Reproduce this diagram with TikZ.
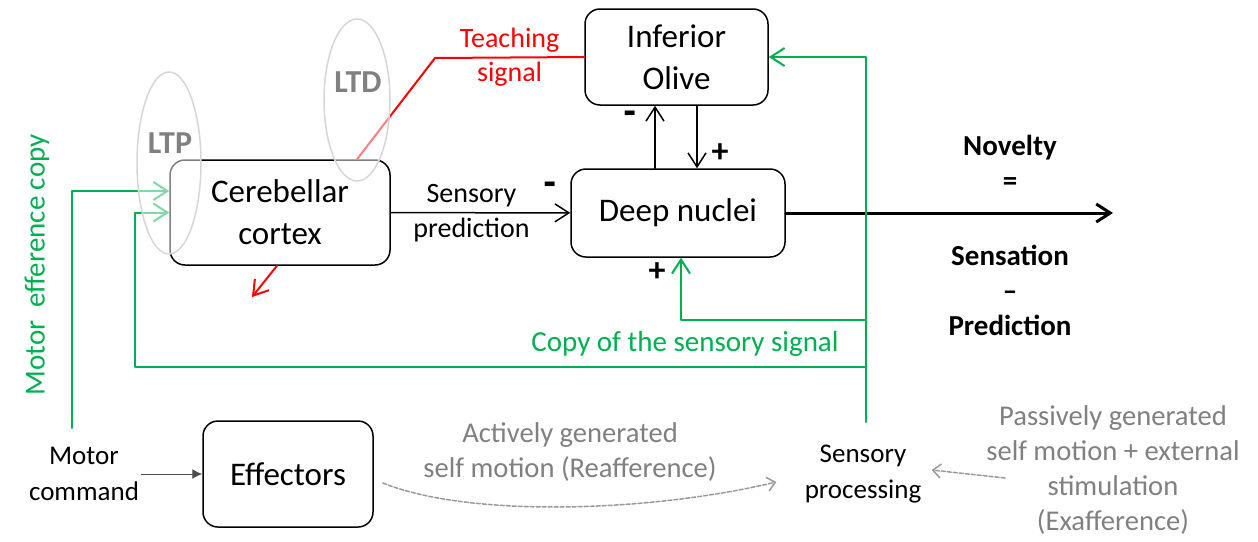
\documentclass[tikz,border=0pt]{standalone}
\usepackage{fontspec}
\setmainfont{Carlito}
\newfontfamily\signfont{DejaVu Sans}
\usepackage{tikz}
\usetikzlibrary{arrows.meta}
\definecolor{sigred}{rgb}{1,0,0}
\definecolor{siggreen}{rgb}{0,0.69,0.31}
\definecolor{txtgray}{rgb}{0.5,0.5,0.5}
\definecolor{ltgray}{rgb}{0.84,0.84,0.84}
\definecolor{dashgray}{rgb}{0.6,0.6,0.6}
\tikzset{
  block/.style={draw,rounded corners=7.5pt,line width=0.75pt,align=center,font=\fontsize{16.5}{21}\selectfont},
  plain/.style={align=center,inner sep=1pt,font=\fontsize{13.5}{18}\selectfont},
  greentext/.style={text=siggreen,align=center,font=\fontsize{14.5}{18}\selectfont},
  redtext/.style={text=sigred,align=center,font=\fontsize{14}{17}\selectfont},
  graytext/.style={text=txtgray,align=center,font=\fontsize{14.3}{17.5}\selectfont},
  boldtext/.style={align=center,font=\fontsize{14.5}{17.5}\selectfont\bfseries},
  minustext/.style={inner sep=0pt,font=\signfont\fontsize{16}{16}\selectfont\bfseries},
  plustext/.style={inner sep=0pt,font=\fontsize{17}{17}\selectfont\bfseries},
  lttext/.style={text=black!50,inner sep=0pt,font=\fontsize{16}{16}\selectfont\bfseries},
  ltring/.style={draw=ltgray,line width=0.75pt,fill=white,fill opacity=0.5},
  gline/.style={draw=siggreen,line width=1pt},
  redline/.style={draw=sigred,line width=1pt},
  dashline/.style={draw=dashgray,line width=0.75pt,dash pattern=on 2pt off 1pt,-{Straight Barb[length=4pt,width=7pt]}}
}
\begin{document}
\begin{tikzpicture}[line cap=round,line join=round,>={Straight Barb[length=7pt,width=9pt]},x=0.5pt,y=-0.5pt]
\useasboundingbox (0,0) rectangle (1258,541);
% boxes
\node[block,minimum width=110pt,minimum height=52.5pt] (cortex) at (280,212.5) {Cerebellar\\cortex};
\node[block,minimum width=91.5pt,minimum height=48pt] (olive) at (676.5,57) {Inferior\\Olive};
\node[block,minimum width=107pt,minimum height=44pt] (nuclei) at (678,213) {Deep nuclei};
\node[block,minimum width=85pt,minimum height=53pt] (effectors) at (288,474) {Effectors};
% free texts
\node[plain] (motor) at (84,474) {Motor\\command};
\node[plain] (sensproc) at (863,474) {Sensory\\processing};
\node[greentext,rotate=90] (effcopy) at (37,265) {Motor\ \ efference copy};
\node[greentext] (sigcopy) at (685,344) {Copy of the sensory signal};
\node[graytext] (reaf) at (570,452) {Actively generated\\self motion (Reafference)};
\node[graytext] (exaf) at (1113,470) {Passively generated\\self motion + external\\stimulation\\(Exafference)};
\node[boldtext] (novelty) at (1010,163) {Novelty\\=};
\node[boldtext] (difference) at (1010,290) {Sensation\\–\\Prediction};
% signs
\node[minustext] (minusup) at (630,117) {-};
\node[plustext] (plusdown) at (720,153) {+};
\node[minustext] (minuspred) at (550,188) {-};
\node[plustext] (plusgreen) at (657,272) {+};
% black connectors
\draw[->,line width=0.75pt] (cortex) -- node[plain,pos=0.45,font=\fontsize{14}{17.5}\selectfont] {Sensory\\prediction} (nuclei);
\draw[->,line width=0.75pt] ([xshift=-11.5pt]nuclei.north) -- ([xshift=-10.75pt]olive.south);
\draw[->,line width=0.75pt] ([xshift=10.25pt]olive.south) -- ([xshift=9.5pt]nuclei.north);
\coordinate (novend) at (1113,213);
\draw[->,line width=1.5pt] (nuclei) -- (novend);
\draw[-{Latex[length=5pt,width=5pt]},line width=0.5pt,draw=black!70] (motor) -- (effectors);
% red teaching signal
\coordinate (tbend) at (435,58);
\coordinate (ltdout) at (252,297);
\draw[redline] (olive.west) -- node[redtext] {Teaching\\signal} (tbend) -- ([xshift=38.5pt]cortex.north);
\draw[redline,->] ([xshift=-1.5pt]cortex.south) -- (ltdout);
% green copies
\coordinate (sensup) at (866,422);
\coordinate (split1) at (866,320);
\coordinate (split2) at (866,367);
\coordinate (loopleft) at (135,367);
\coordinate (motorup) at (72,428);
\draw[gline,->] (sensup) |- (olive.east);
\draw[gline,->] (split1) -| ([xshift=1.5pt]nuclei.south);
\draw[gline,->] (split2) -- (loopleft) |- (cortex.west);
\draw[gline,->] (motorup) |- ([yshift=10.75pt]cortex.west);
% afference
\coordinate (exafstart) at (1005,478);
\draw[dashline] ([xshift=4.5pt,yshift=-4.5pt]effectors.east) .. controls (470,518) and (650,512) .. ([xshift=-13pt,yshift=-4pt]sensproc.west);
\draw[dashline] (exafstart) -- ([xshift=4pt,yshift=2pt]sensproc.east);
% plasticity sites
\draw[ltring] (169,163) ellipse [x radius=16pt, y radius=45.5pt];
\draw[ltring] (357,100) ellipse [x radius=16.5pt, y radius=40.5pt];
\node[lttext] (ltp) at (170,143) {LTP};
\node[lttext] (ltd) at (358,82) {LTD};
\end{tikzpicture}
\end{document}
